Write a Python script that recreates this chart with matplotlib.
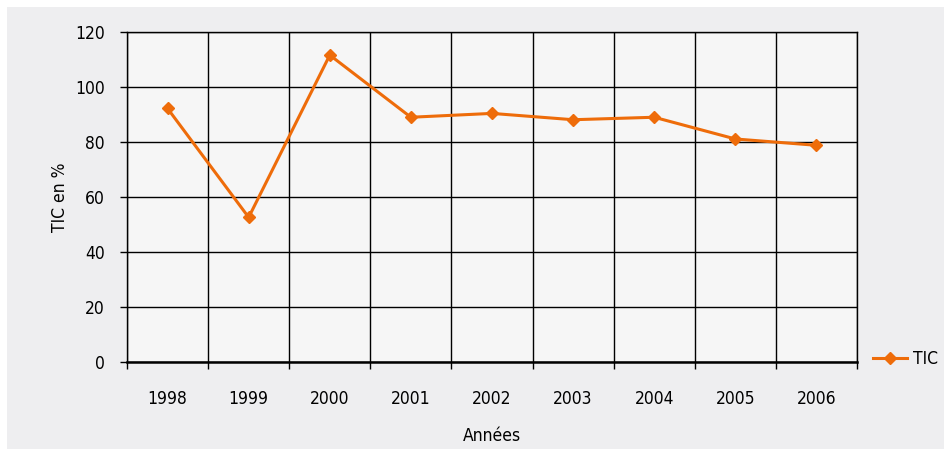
import matplotlib.pyplot as plt
from matplotlib.patches import Rectangle

years = ["1998", "1999", "2000", "2001", "2002", "2003", "2004", "2005", "2006"]
tic = [92.2, 52.6, 111.6, 89.0, 90.4, 88.1, 89.0, 81.1, 78.8]
y_ticks = [0, 20, 40, 60, 80, 100, 120]

plt.rcParams['font.family'] = ['DejaVu Sans']
plt.rcParams['font.stretch'] = 'condensed'

orange = '#ee6c0a'
fs = 12.5

fig = plt.figure(figsize=(9.44, 4.49), dpi=100, facecolor='white')
# grey paper background, leaving a thin white strip on top and left
fig.patches.append(Rectangle((7 / 944, 0), 1, 1 - 7 / 449, transform=fig.transFigure,
                             facecolor='#eeeef0', edgecolor='none', zorder=-5))

ax = fig.add_axes([127 / 944, 1 - 362 / 449, 730 / 944, 330 / 449])
ax.set_facecolor('#f6f6f6')

x = list(range(len(years)))
ax.plot(x, tic, color=orange, lw=2.2, marker='D', ms=6.5, mec=orange, label='TIC',
        zorder=3, clip_on=False)

ax.set_xlim(-0.5, len(years) - 0.5)
ax.set_ylim(0, 120)
ax.set_yticks(y_ticks)
ax.set_xticks(x)
ax.set_xticklabels(years)
ax.set_xticks([i - 0.5 for i in range(len(years) + 1)], minor=True)

ax.grid(axis='y', which='major', color='black', lw=1)
ax.grid(axis='x', which='minor', color='black', lw=1)
ax.set_axisbelow(True)

ax.tick_params(axis='x', which='major', length=0, pad=20, labelsize=fs)
ax.tick_params(axis='x', which='minor', length=5, width=1, direction='out')
ax.tick_params(axis='y', length=5, width=1, pad=11, labelsize=fs)

for side in ['top', 'right', 'left']:
    ax.spines[side].set_linewidth(1)
ax.spines['bottom'].set_linewidth(1.8)

ax.set_ylabel('TIC en %', fontsize=fs, labelpad=4)
ax.set_xlabel('Années', fontsize=fs, labelpad=14)

ax.legend(loc='lower left', bbox_to_anchor=(1.012, -0.04), frameon=False, fontsize=fs,
          handlelength=2.0, handletextpad=0.3, borderaxespad=0)

fig.savefig('out.png', dpi=100, facecolor=fig.get_facecolor())
